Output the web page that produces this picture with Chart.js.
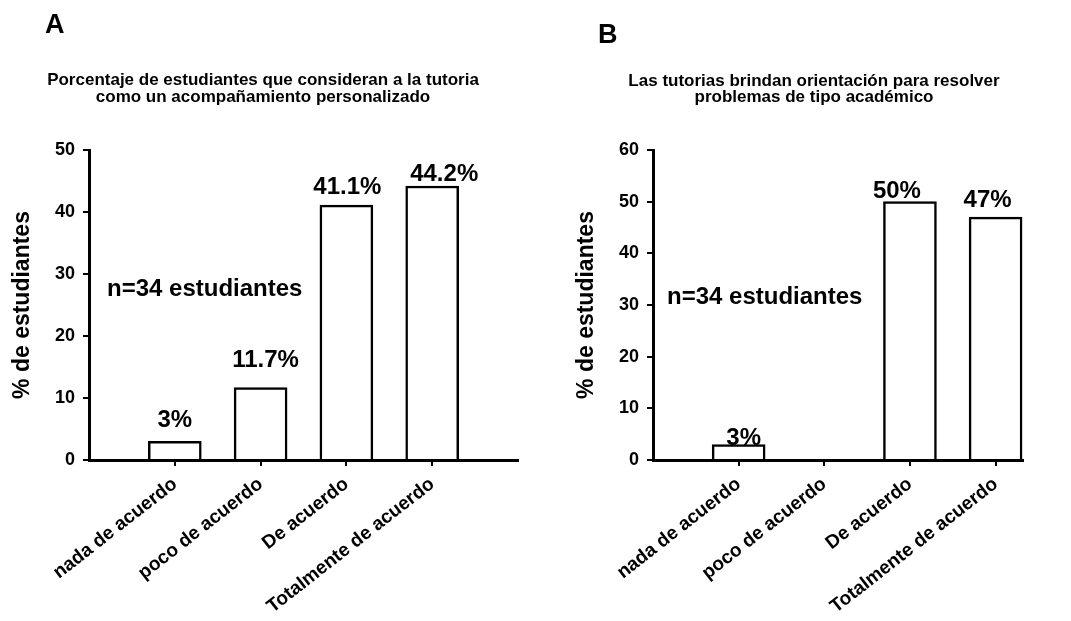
<!DOCTYPE html>
<html>
<head>
<meta charset="utf-8">
<script src="https://cdn.jsdelivr.net/npm/chart.js@4.4.0/dist/chart.umd.min.js"></script>
<style>
html, body { margin: 0; padding: 0; background: #fff; }
#wrap { position: relative; width: 1071px; height: 621px; }
canvas { position: absolute; top: 0; }
</style>
</head>
<body>
<div id="wrap">
  <canvas id="chartA" width="564" height="621" style="left:0px"></canvas>
  <canvas id="chartB" width="507" height="621" style="left:564px"></canvas>
</div>
<script>
// data
const categories = ['nada de acuerdo', 'poco de acuerdo', 'De acuerdo', 'Totalmente de acuerdo'];
const valuesA = [3, 11.7, 41.1, 44.2];
const valuesB = [3, 0, 50, 47];
const barLabelsA = ['3%', '11.7%', '41.1%', '44.2%'];
const barLabelsB = ['3%', '', '50%', '47%'];
const yTicksA = [0, 10, 20, 30, 40, 50];
const yTicksB = [0, 10, 20, 30, 40, 50, 60];
const titleA = ['Porcentaje de estudiantes que consideran a la tutoria', 'como un acompañamiento personalizado'];
const titleB = ['Las tutorias brindan orientación para resolver', 'problemas de tipo académico'];
const noteText = 'n=34 estudiantes';
const yTitle = '% de estudiantes';

const FONT = '"Liberation Sans", Arial, sans-serif';

// draws the panel letter, the two-line title and the n= note
const panelText = {
    id: 'panelText',
    afterDraw(chart, args, o) {
        const ctx = chart.ctx;
        ctx.save();
        ctx.fillStyle = '#000';
        ctx.textBaseline = 'alphabetic';
        ctx.font = 'bold 27px ' + FONT;
        ctx.textAlign = 'left';
        ctx.fillText(o.letter, o.letterX, o.letterY);
        ctx.font = 'bold 17px ' + FONT;
        ctx.textAlign = 'center';
        o.title.forEach(function (line, i) {
            ctx.fillText(line, o.titleX, o.titleY[i]);
        });
        ctx.font = 'bold 24px ' + FONT;
        ctx.textAlign = 'left';
        ctx.fillText(o.note, o.noteX, o.noteY);
        ctx.restore();
    }
};

// value labels above the bars
const barLabels = {
    id: 'barLabels',
    afterDatasetsDraw(chart, args, o) {
        const ctx = chart.ctx;
        const meta = chart.getDatasetMeta(0);
        ctx.save();
        ctx.fillStyle = '#000';
        ctx.font = 'bold 24px ' + FONT;
        ctx.textAlign = 'center';
        ctx.textBaseline = 'alphabetic';
        meta.data.forEach(function (bar, i) {
            if (!o.labels[i]) return;
            ctx.fillText(o.labels[i], bar.x + o.dx[i], bar.y - o.gap[i]);
        });
        ctx.restore();
    }
};

function makePanel(id, values, labels, yTicks, p) {
    const canvas = document.getElementById(id);
    const points = values.map(function (v, i) { return { x: i + 1, y: v }; });
    return new Chart(canvas, {
        type: 'bar',
        data: {
            datasets: [{
                data: points,
                backgroundColor: '#fff',
                borderColor: '#000',
                borderWidth: 2.5,
                borderSkipped: 'bottom',
                barThickness: 53
            }]
        },
        plugins: [panelText, barLabels],
        options: {
            responsive: false,
            animation: false,
            devicePixelRatio: 1,
            layout: { padding: { left: 0, top: 150, right: canvas.width - p.chartRight, bottom: 0 } },
            plugins: {
                legend: { display: false },
                tooltip: { enabled: false },
                panelText: {
                    letter: p.letter, letterX: p.letterX, letterY: p.letterY,
                    title: p.title, titleX: p.titleX, titleY: p.titleY,
                    note: noteText, noteX: p.noteX, noteY: p.noteY
                },
                barLabels: { labels: labels, dx: p.labelDx, gap: p.labelGap }
            },
            scales: {
                x: {
                    type: 'linear',
                    offset: false,
                    min: 0,
                    max: p.xMax,
                    afterBuildTicks: function (s) {
                        s.ticks = categories.map(function (c, i) { return { value: i + 1 }; });
                    },
                    afterFit: function (s) { s.height = 161; },
                    ticks: {
                        autoSkip: false,
                        minRotation: 38,
                        maxRotation: 38,
                        padding: 7,
                        color: '#000',
                        font: { family: FONT, size: 19, weight: 'bold' },
                        callback: function (v) { return categories[v - 1]; }
                    },
                    grid: { offset: false, drawOnChartArea: false, tickLength: 6, color: '#000', lineWidth: 2 },
                    border: { color: '#000', width: 3 }
                },
                y: {
                    min: yTicks[0],
                    max: yTicks[yTicks.length - 1],
                    afterFit: function (s) { s.width = 89; },
                    ticks: {
                        stepSize: yTicks[1] - yTicks[0],
                        padding: 8,
                        color: '#000',
                        font: { family: FONT, size: 18, weight: 'bold' }
                    },
                    grid: { drawOnChartArea: false, tickLength: 6, color: '#000', lineWidth: 2 },
                    border: { color: '#000', width: 3 },
                    title: {
                        display: true,
                        text: yTitle,
                        color: '#000',
                        padding: { top: 9, bottom: 0 },
                        font: { family: FONT, size: 23, weight: 'bold' }
                    }
                }
            }
        }
    });
}

makePanel('chartA', valuesA, barLabelsA, yTicksA, {
    chartRight: 518, xMax: 5,
    letter: 'A', letterX: 45, letterY: 33,
    title: titleA, titleX: 263, titleY: [85, 102],
    noteX: 107, noteY: 296,
    labelDx: [0, 5, 1, 12], labelGap: [14, 20, 11, 5]
});

makePanel('chartB', valuesB, barLabelsB, yTicksB, {
    chartRight: 459, xMax: 4.32,
    letter: 'B', letterX: 34, letterY: 43,
    title: titleB, titleX: 250, titleY: [86, 102],
    noteX: 103, noteY: 304,
    labelDx: [5, 0, -13, -8], labelGap: [0, 0, 4, 10]
});
</script>
</body>
</html>
